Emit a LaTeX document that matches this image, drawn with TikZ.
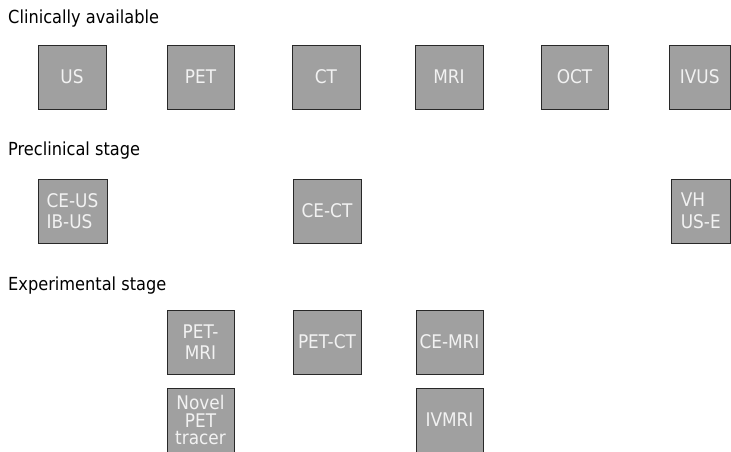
\documentclass[tikz,border=0pt]{standalone}
\usepackage{fontspec}
\setmainfont{DejaVu Sans}[FakeStretch=0.9]
\definecolor{boxgray}{HTML}{A0A0A0}
\definecolor{boxtext}{HTML}{F2F2F2}
\definecolor{edgecol}{HTML}{282828}
\tikzset{
  modbox/.style={draw=edgecol, line width=0.9pt, fill=boxgray, text=boxtext,
    inner sep=0pt, minimum height=64pt, align=center,
    font=\fontsize{18.8}{21.5}\selectfont},
  stagetitle/.style={anchor=base west, inner sep=0pt, text=black,
    font=\fontsize{18}{21}\selectfont}
}
\begin{document}
\begin{tikzpicture}[x=1pt,y=-1pt]
\fill[white] (0,0) rectangle (731,452);
\useasboundingbox (0,0) rectangle (731,452);
\begin{scope}
\clip (0,0) rectangle (731,452);
% titles
\node[stagetitle] (t1) at (8,24) {Clinically available};
\node[stagetitle] (t2) at (8,155) {Preclinical stage};
\node[stagetitle] (t3) at (8,290) {Experimental stage};
% row 1
\node[modbox, minimum width=68pt] (us) at (72,77) {US};
\node[modbox, minimum width=67pt] (pet) at (200.5,77) {PET};
\node[modbox, minimum width=68pt] (ct) at (326,77) {CT};
\node[modbox, minimum width=68pt] (mri) at (449,77) {MRI};
\node[modbox, minimum width=67pt] (oct) at (574.5,77) {OCT};
\node[modbox, minimum width=61.5pt] (ivus) at (699.75,77) {IVUS};
% row 2
\node[modbox, minimum width=69pt, align=left] (ceus) at (72.5,211) {CE-US\\IB-US};
\node[modbox, minimum width=68pt] (cect) at (327,211) {CE-CT};
\node[modbox, minimum width=59.5pt, align=left] (vh) at (700.75,211) {VH\\US-E};
% row 3
\node[modbox, minimum width=67pt] (petmri) at (200.5,342) {PET-\\MRI};
\node[modbox, minimum width=68pt] (petct) at (327,342) {PET-CT};
\node[modbox, minimum width=67pt] (cemri) at (449.5,342) {CE-MRI};
% row 4
\node[modbox, minimum width=67pt, font=\fontsize{18.8}{17.5}\selectfont] (novel) at (200.5,420) {Novel\\PET\\tracer};
\node[modbox, minimum width=67pt] (ivmri) at (449.5,420) {IVMRI};
\end{scope}
\end{tikzpicture}
\end{document}
